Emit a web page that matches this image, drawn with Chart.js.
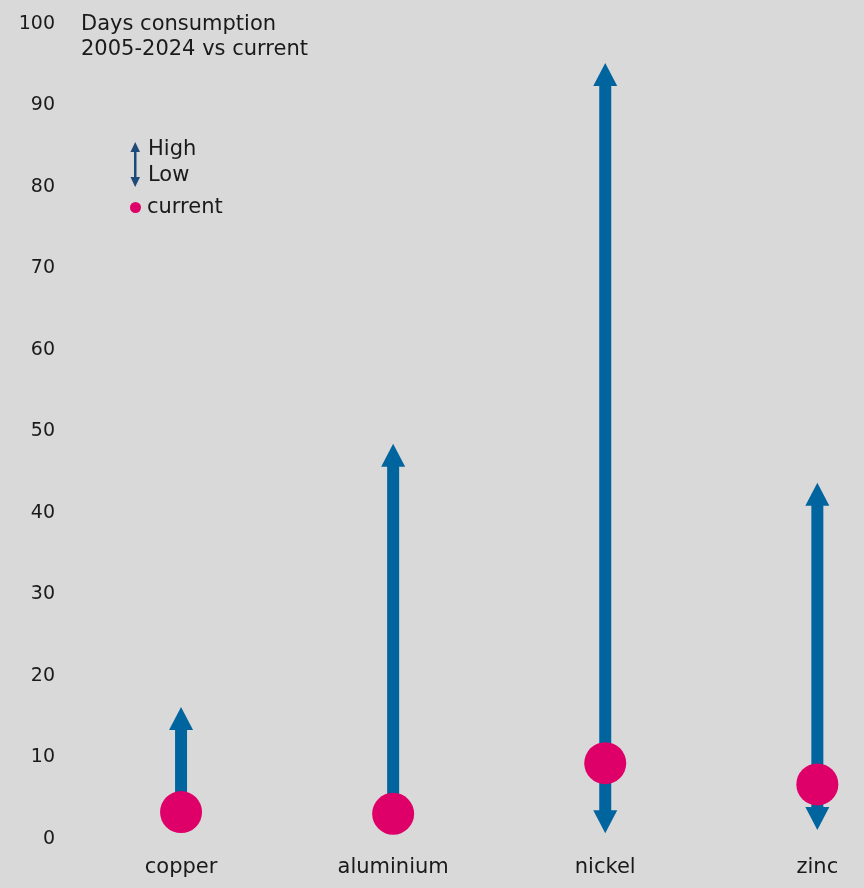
<!DOCTYPE html>
<html>
<head>
<meta charset="utf-8">
<script src="https://cdn.jsdelivr.net/npm/chart.js@4"></script>
<style>
  html, body { margin: 0; padding: 0; background: #d9d9d9; }
  #wrap { width: 864px; height: 888px; }
</style>
</head>
<body>
<div id="wrap"><canvas id="stockChart"></canvas></div>
<script>
// Dados do gráfico
const categories = ['copper', 'aluminium', 'nickel', 'zinc'];
const lowValues = [3.3, 3.1, 0.7, 1.1];      // mínimo 2005-2024
const highValues = [16.2, 48.5, 95.2, 43.7]; // máximo 2005-2024
const currentValues = [3.3, 3.1, 9.3, 6.7];  // valor atual
const yTicks = [0, 10, 20, 30, 40, 50, 60, 70, 80, 90, 100];

const FONT = '"DejaVu Sans", sans-serif';
const BLUE = '#00659f';
const PINK = '#de0068';
const SHAFT_W = 12;
const HEAD_W = 24;
const HEAD_H = 23;

// Setas mínimo-máximo (desenhadas antes dos pontos)
const rangeArrows = {
  id: 'rangeArrows',
  beforeDatasetsDraw(chart) {
    const ctx = chart.ctx;
    const x = chart.scales.x, y = chart.scales.y;
    ctx.save();
    ctx.fillStyle = BLUE;
    categories.forEach((c, i) => {
      const px = x.getPixelForValue(i);
      const top = y.getPixelForValue(highValues[i]);
      const bot = y.getPixelForValue(lowValues[i]);
      const hasDown = lowValues[i] < currentValues[i];
      const shaftTop = top + HEAD_H - 1;
      const shaftBot = hasDown ? bot - HEAD_H + 1 : bot;
      ctx.fillRect(px - SHAFT_W / 2, shaftTop, SHAFT_W, shaftBot - shaftTop);
      ctx.beginPath();
      ctx.moveTo(px, top);
      ctx.lineTo(px - HEAD_W / 2, top + HEAD_H);
      ctx.lineTo(px + HEAD_W / 2, top + HEAD_H);
      ctx.closePath();
      ctx.fill();
      // ponta de baixo só quando o mínimo fica abaixo do atual
      if (hasDown) {
        ctx.beginPath();
        ctx.moveTo(px, bot);
        ctx.lineTo(px - HEAD_W / 2, bot - HEAD_H);
        ctx.lineTo(px + HEAD_W / 2, bot - HEAD_H);
        ctx.closePath();
        ctx.fill();
      }
    });
    ctx.restore();
  }
};

// Título e legenda no canto superior esquerdo
const notes = {
  id: 'notes',
  afterDraw(chart) {
    const ctx = chart.ctx;
    ctx.save();
    ctx.fillStyle = '#1a1a1a';
    ctx.font = '21px ' + FONT;
    ctx.textBaseline = 'middle';
    ctx.textAlign = 'left';
    ctx.fillText('Days consumption', 81, 25);
    ctx.fillText('2005-2024 vs current', 81, 50);
    ctx.fillText('High', 148, 150);
    ctx.fillText('Low', 148, 176);
    ctx.fillText('current', 147, 208);

    // seta da legenda
    ctx.fillStyle = '#1d4a78';
    ctx.fillRect(134, 148, 2.5, 34);
    ctx.beginPath();
    ctx.moveTo(135.2, 142); ctx.lineTo(130.5, 152); ctx.lineTo(140, 152); ctx.closePath(); ctx.fill();
    ctx.beginPath();
    ctx.moveTo(135.2, 187); ctx.lineTo(130.5, 177); ctx.lineTo(140, 177); ctx.closePath(); ctx.fill();

    ctx.fillStyle = PINK;
    ctx.beginPath();
    ctx.arc(135.5, 207.5, 5.5, 0, Math.PI * 2);
    ctx.fill();
    ctx.restore();
  }
};

const ctx = document.getElementById('stockChart').getContext('2d');
new Chart(ctx, {
  type: 'scatter',
  data: {
    datasets: [{
      label: 'current',
      data: categories.map((c, i) => ({ x: i, y: currentValues[i] })),
      backgroundColor: PINK,
      borderWidth: 0,
      pointRadius: 21,
      pointHoverRadius: 21,
      clip: false
    }]
  },
  options: {
    responsive: true,
    maintainAspectRatio: false,
    animation: false,
    layout: { autoPadding: false, padding: { top: 24, right: 0, bottom: 0, left: 0 } },
    plugins: { legend: { display: false }, tooltip: { enabled: false } },
    scales: {
      x: {
        type: 'linear',
        min: -0.5,
        max: 3.22,
        offset: false,
        grid: { display: false, drawTicks: false },
        border: { display: false },
        afterBuildTicks: axis => { axis.ticks = categories.map((c, i) => ({ value: i })); },
        afterFit: axis => { axis.height = 49; },
        ticks: {
          padding: 16,
          color: '#1a1a1a',
          font: { family: FONT, size: 21 },
          callback: v => categories[v]
        }
      },
      y: {
        min: 0,
        max: 100,
        grid: { display: false, drawTicks: false },
        border: { display: false },
        afterBuildTicks: axis => { axis.ticks = yTicks.map(v => ({ value: v })); },
        afterFit: axis => {
          axis.width = 75;
          axis.paddingTop = 0;
          axis.paddingBottom = 0;
        },
        ticks: {
          padding: 20,
          color: '#1a1a1a',
          font: { family: FONT, size: 19 }
        }
      }
    }
  },
  plugins: [rangeArrows, notes]
});
</script>
</body>
</html>
